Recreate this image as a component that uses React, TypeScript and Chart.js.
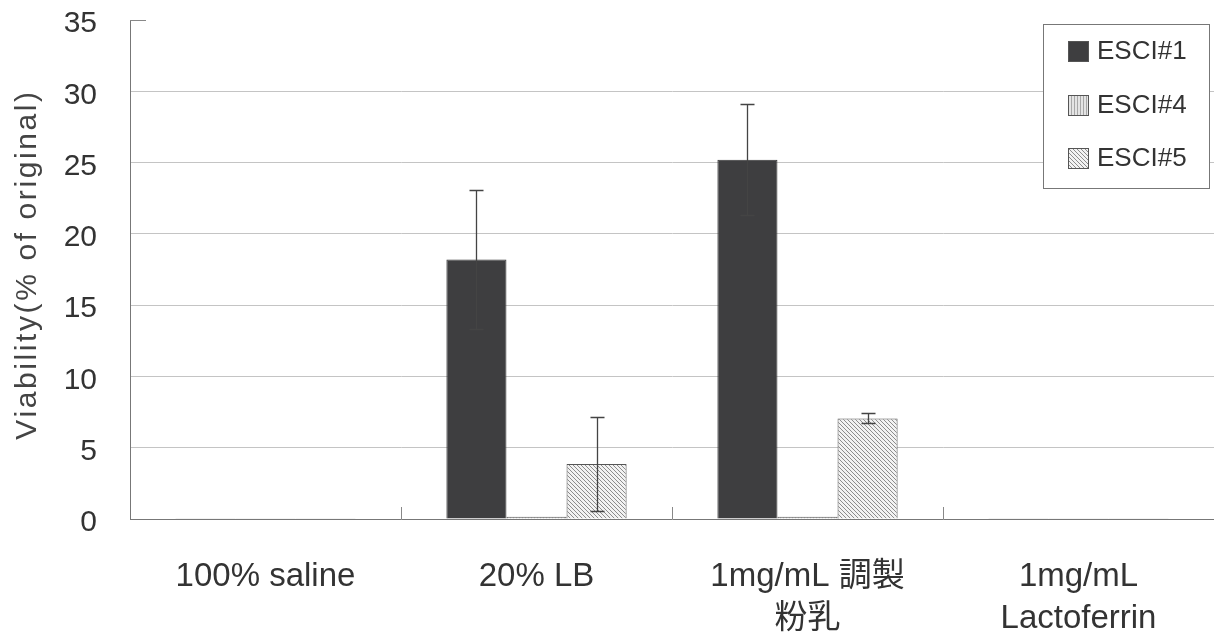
import React, { useEffect, useRef } from "react";
import { Chart, registerables } from "chart.js";

Chart.register(...registerables);

const categories: string[][] = [["100% saline"], ["20% LB"], ["1mg/mL 調製", "粉乳"], ["1mg/mL", "Lactoferrin"]];
const seriesNames = ["ESCI#1", "ESCI#4", "ESCI#5"];
const esci1 = [0.05, 18.2, 25.2, 0.05];
const esci1Err = [0, 4.9, 3.9, 0];
const esci4 = [0.05, 0.15, 0.15, 0.05];
const esci4Err = [0, 0, 0, 0];
const esci5 = [0.05, 3.85, 7.05, 0.05];
const esci5Err = [0, 3.3, 0.35, 0];
const yMin = 0;
const yMax = 35;
const yStep = 5;
const yTitle = "Viability(% of original)";

const errors = [esci1Err, esci4Err, esci5Err];

function makeVerticalPattern(): CanvasPattern | string {
  const c = document.createElement("canvas");
  c.width = 3;
  c.height = 3;
  const g = c.getContext("2d");
  if (!g) return "#ddd";
  g.fillStyle = "#e4e4e4";
  g.fillRect(0, 0, 3, 3);
  g.fillStyle = "#a8a8a8";
  g.fillRect(0, 0, 1, 3);
  return g.createPattern(c, "repeat") || "#ddd";
}

function makeHatchPattern(): CanvasPattern | string {
  const s = 4;
  const c = document.createElement("canvas");
  c.width = s;
  c.height = s;
  const g = c.getContext("2d");
  if (!g) return "#eee";
  g.fillStyle = "#f2f2f2";
  g.fillRect(0, 0, s, s);
  g.strokeStyle = "#8c8c8c";
  g.lineWidth = 1;
  g.beginPath();
  g.moveTo(-1, -1);
  g.lineTo(s + 1, s + 1);
  g.moveTo(-1, s - 1);
  g.lineTo(1, s + 1);
  g.moveTo(s - 1, -1);
  g.lineTo(s + 1, 1);
  g.stroke();
  return g.createPattern(c, "repeat") || "#eee";
}

const extrasPlugin = {
  id: "extras",
  afterDatasetsDraw(chart: any) {
    const ctx = chart.ctx;
    const y = chart.scales.y;
    const x = chart.scales.x;
    ctx.save();
    // error bars
    chart.data.datasets.forEach((ds: any, di: number) => {
      const meta = chart.getDatasetMeta(di);
      const errs = errors[di];
      meta.data.forEach((bar: any, i: number) => {
        const e = errs[i];
        if (!e) return;
        const v = ds.data[i];
        const cx = Math.round(bar.x) + 0.5;
        const yTop = Math.round(y.getPixelForValue(v + e)) + 0.5;
        const yBot = Math.round(y.getPixelForValue(Math.max(0, v - e))) + 0.5;
        ctx.strokeStyle = "#444";
        ctx.lineWidth = 1.3;
        ctx.beginPath();
        ctx.moveTo(cx, yTop);
        ctx.lineTo(cx, yBot);
        ctx.moveTo(cx - 7, yTop);
        ctx.lineTo(cx + 7, yTop);
        ctx.moveTo(cx - 7, yBot);
        ctx.lineTo(cx + 7, yBot);
        ctx.stroke();
      });
    });
    // category boundary ticks
    const n = chart.data.labels.length;
    const w = (x.right - x.left) / n;
    ctx.strokeStyle = "#888";
    ctx.lineWidth = 1;
    for (let i = 1; i < n; i++) {
      const px = Math.round(x.left + i * w) + 0.5;
      ctx.beginPath();
      ctx.moveTo(px, y.bottom);
      ctx.lineTo(px, y.bottom - 12);
      ctx.stroke();
    }
    // short top tick at max
    const yt = Math.round(y.getPixelForValue(yMax)) + 0.5;
    ctx.strokeStyle = "#888";
    ctx.beginPath();
    ctx.moveTo(y.right, yt);
    ctx.lineTo(y.right + 16, yt);
    ctx.stroke();
    // y axis title
    ctx.save();
    ctx.translate(28, (y.top + y.bottom) / 2 - 5);
    ctx.rotate(-Math.PI / 2);
    ctx.fillStyle = "#444";
    ctx.font = "30px 'Liberation Sans', Arial, sans-serif";
    (ctx as any).letterSpacing = "2.6px";
    ctx.textAlign = "center";
    ctx.textBaseline = "middle";
    ctx.fillText(yTitle, 0, 0);
    ctx.restore();
    // legend
    const bx = 1043.5, by = 24.5, bw = 166, bh = 164;
    ctx.fillStyle = "#ffffff";
    ctx.fillRect(bx, by, bw, bh);
    ctx.strokeStyle = "#777";
    ctx.lineWidth = 1;
    ctx.strokeRect(bx, by, bw, bh);
    const rows = [51, 105, 158];
    chart.data.datasets.forEach((ds: any, di: number) => {
      const cy = rows[di];
      ctx.fillStyle = ds.backgroundColor;
      ctx.fillRect(1068, cy - 10, 21, 21);
      ctx.strokeStyle = "#555";
      ctx.strokeRect(1068.5, cy - 9.5, 20, 20);
      ctx.fillStyle = "#333";
      ctx.font = "26px 'Liberation Sans', Arial, sans-serif";
      ctx.textAlign = "left";
      ctx.textBaseline = "middle";
      ctx.fillText(ds.label, 1097, cy + 1);
    });
    ctx.restore();
  },
};

export default function App() {
  const ref = useRef<HTMLCanvasElement | null>(null);
  useEffect(() => {
    document.body.style.margin = "0";
    const canvas = ref.current;
    if (!canvas) return;
    const verticalPat = makeVerticalPattern();
    const hatchPat = makeHatchPattern();
    const chart = new Chart(canvas, {
      type: "bar",
      data: {
        labels: categories,
        datasets: [
          { label: seriesNames[0], data: esci1, backgroundColor: "#3e3e40", borderColor: "#333", borderWidth: 1 },
          { label: seriesNames[1], data: esci4, backgroundColor: verticalPat as any, borderColor: "#555", borderWidth: 1 },
          { label: seriesNames[2], data: esci5, backgroundColor: hatchPat as any, borderColor: "#555", borderWidth: 1 },
        ],
      },
      options: {
        animation: false,
        responsive: true,
        maintainAspectRatio: false,
        layout: { padding: { top: 20, right: 0, left: 0, bottom: 0 } },
        plugins: { legend: { display: false }, tooltip: { enabled: false } },
        datasets: { bar: { barPercentage: 1, categoryPercentage: 0.665 } } as any,
        scales: {
          x: {
            grid: { display: false },
            border: { color: "#777", width: 1 },
            ticks: {
              color: "#333",
              padding: 29,
              maxRotation: 0,
              autoSkip: false,
              font: { family: "'Liberation Sans', 'Noto Sans CJK JP', Arial, sans-serif", size: 33, lineHeight: 1.27 },
            },
            afterFit: (s: any) => {
              s.height = 118;
            },
          },
          y: {
            min: yMin,
            max: yMax,
            ticks: {
              stepSize: yStep,
              color: "#333",
              padding: 0,
              labelOffset: 4,
              font: { family: "'Liberation Sans', Arial, sans-serif", size: 30 },
            },
            grid: {
              drawTicks: true,
              tickLength: 33,
              tickColor: "rgba(0,0,0,0)",
              color: (c: any) => (c.tick && (c.tick.value === yMax || c.tick.value === yMin) ? "rgba(0,0,0,0)" : "#c4c4c4"),
              lineWidth: 1,
            },
            border: { color: "#777", width: 1 },
            title: { display: false },
            afterFit: (s: any) => {
              s.width = 130;
            },
          },
        },
      },
      plugins: [extrasPlugin],
    });
    return () => chart.destroy();
  }, []);
  return (
    <div style={{ position: "fixed", left: 0, top: 0, width: 1214, height: 637, background: "#fff" }}>
      <canvas ref={ref} />
    </div>
  );
}
